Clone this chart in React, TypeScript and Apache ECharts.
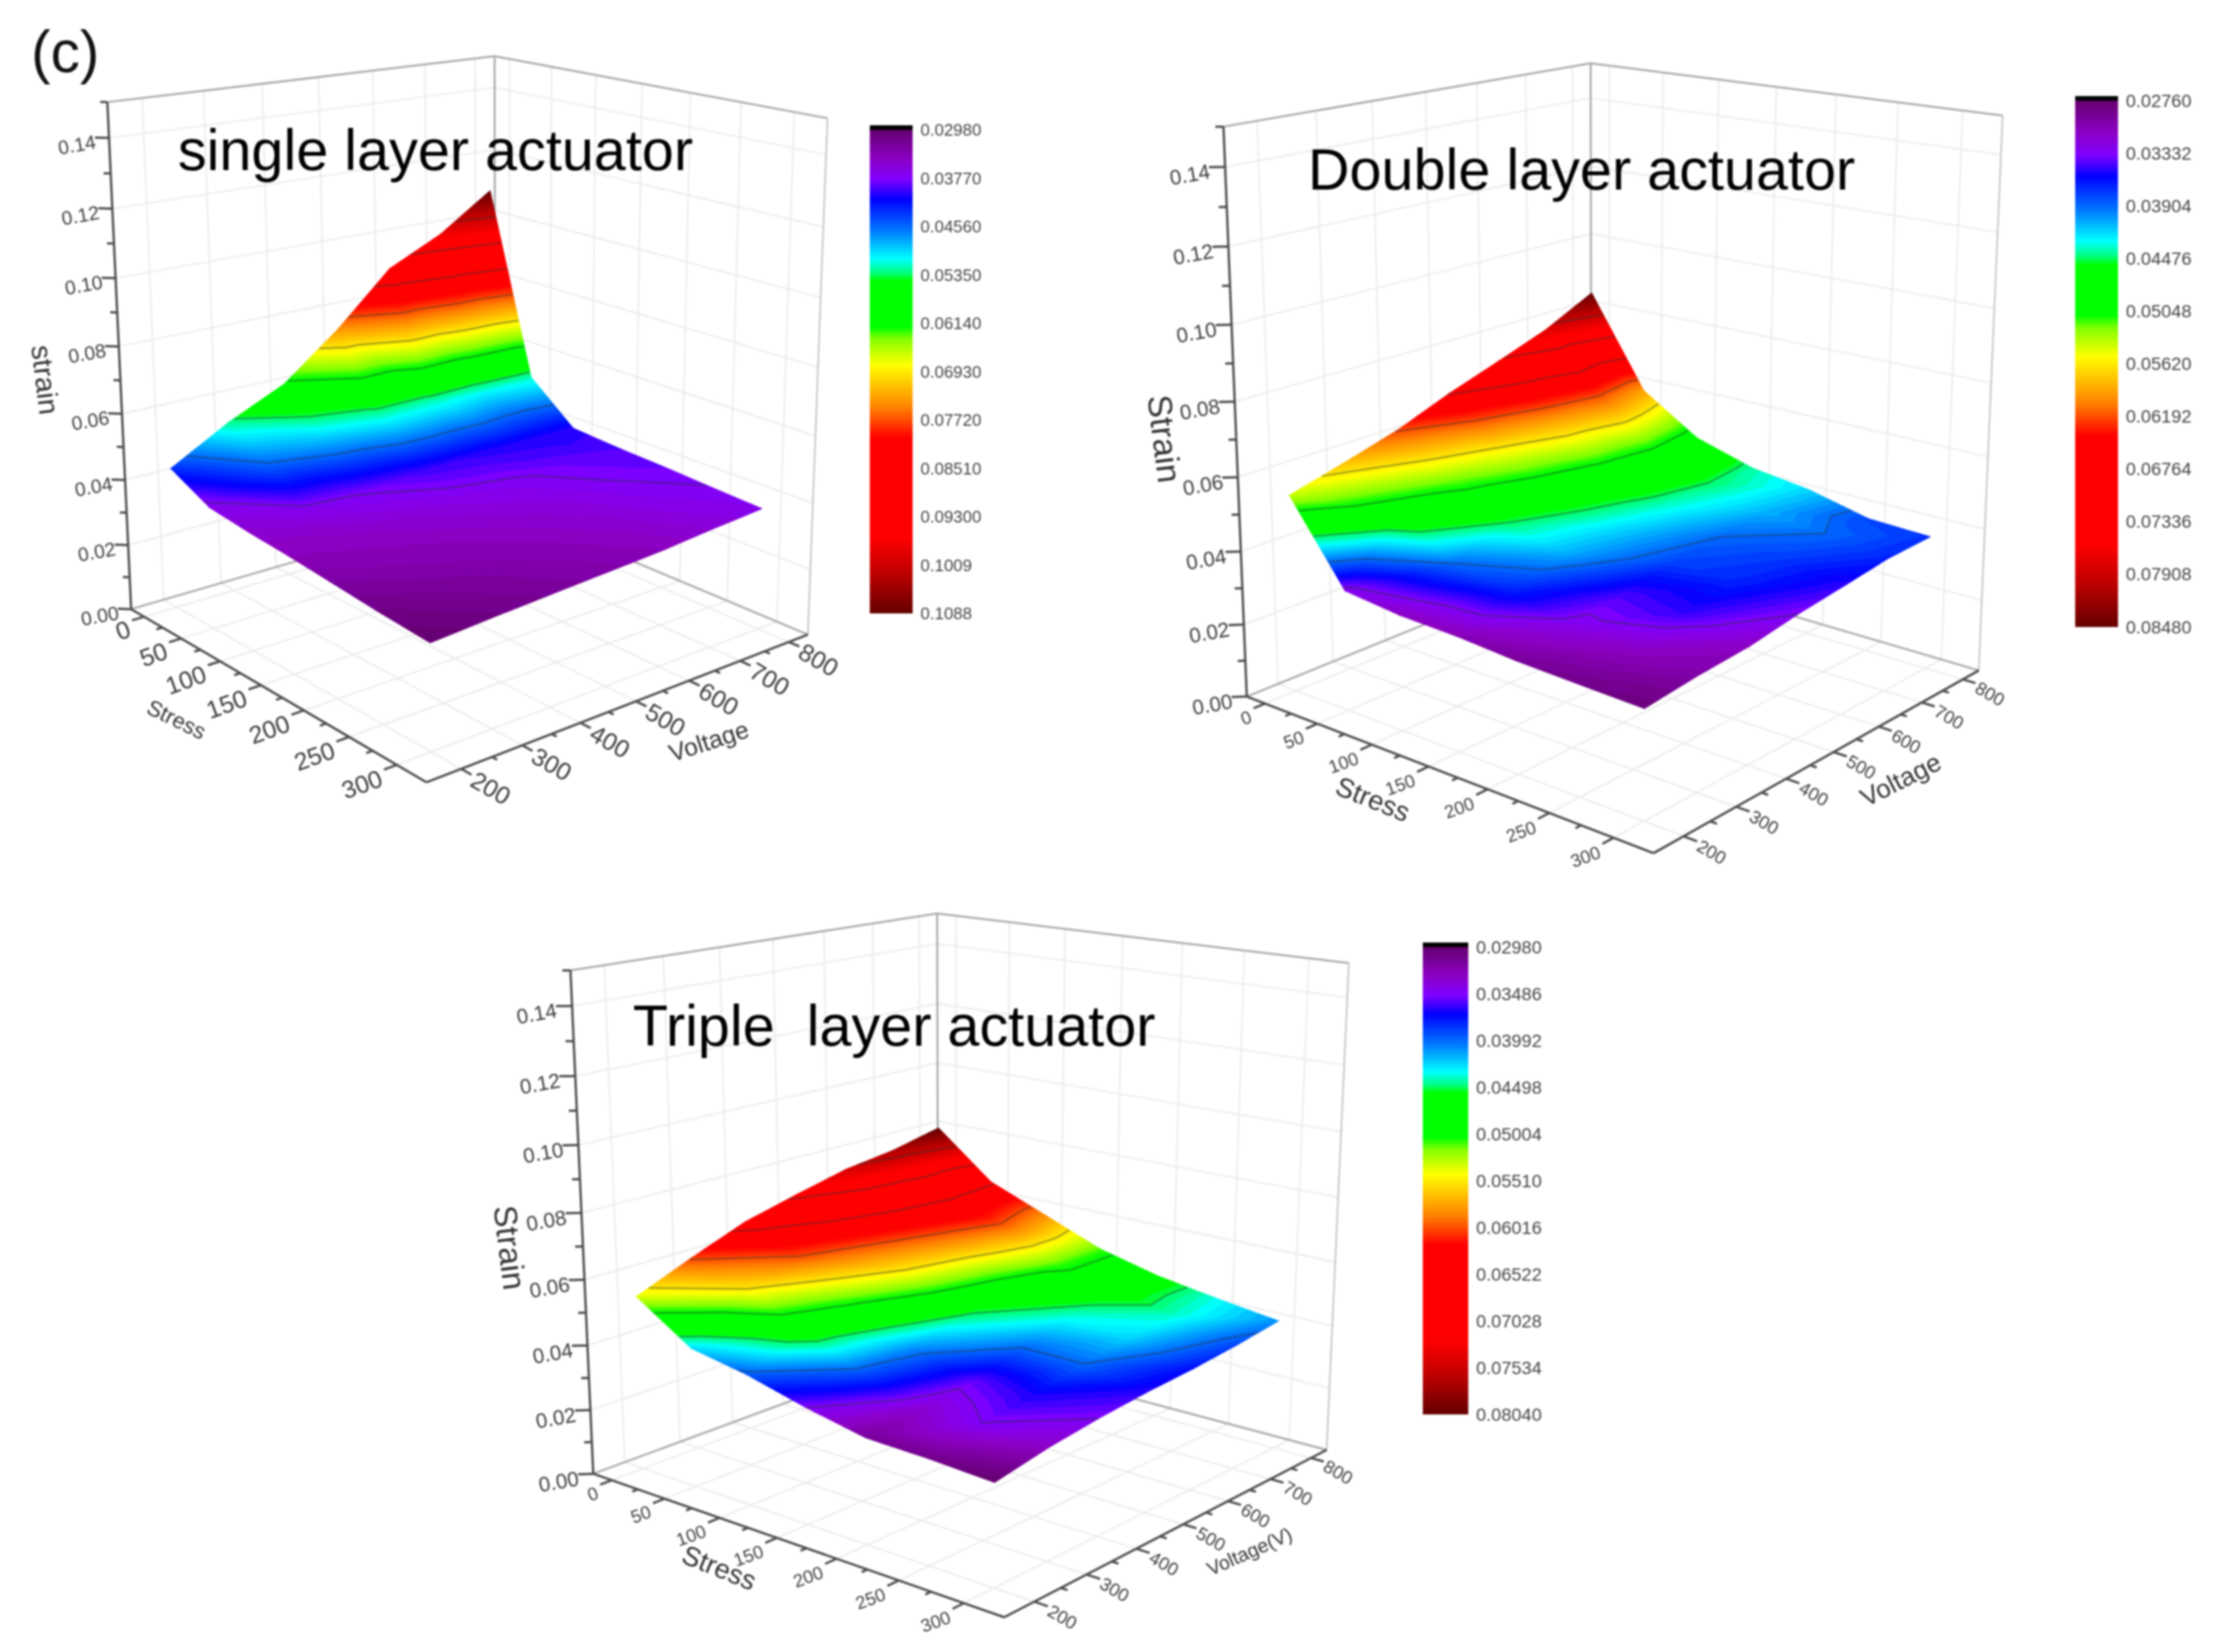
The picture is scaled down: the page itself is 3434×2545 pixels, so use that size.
import React, { useEffect, useRef } from "react";
import * as echarts from "echarts";

const PAGE_W = 3434;
const PAGE_H = 2545;
const FONT = '"Liberation Sans", Arial, sans-serif';

const stressValues = [0, 50, 100, 150, 200, 250, 300];
const voltageValues = [200, 300, 400, 500, 600, 700, 800];
const strainTicks = [0, 0.02, 0.04, 0.06, 0.08, 0.1, 0.12, 0.14];
const stressRange = [-18, 330];
const voltageRange = [145, 840];
const strainRange = [0, 0.15];

// rows: stress, columns: voltage
const singleStrain = [
  [0.043, 0.0527, 0.0606, 0.074, 0.0898, 0.0977, 0.1088],
  [0.0368, 0.0455, 0.049, 0.0525, 0.052, 0.0505, 0.052],
  [0.0352, 0.0368, 0.0379, 0.0395, 0.04, 0.0405, 0.0402],
  [0.034, 0.0345, 0.0355, 0.0365, 0.0373, 0.0385, 0.0392],
  [0.0325, 0.0335, 0.034, 0.035, 0.036, 0.0375, 0.0385],
  [0.031, 0.032, 0.033, 0.0338, 0.035, 0.0365, 0.0376],
  [0.0298, 0.031, 0.032, 0.033, 0.034, 0.0355, 0.0368],
];
const doubleStrain = [
  [0.0539, 0.0579, 0.0622, 0.0679, 0.0728, 0.0779, 0.0848],
  [0.0327, 0.0482, 0.0522, 0.0556, 0.0591, 0.0619, 0.0591],
  [0.031, 0.039, 0.0448, 0.047, 0.0493, 0.0505, 0.0488],
  [0.0305, 0.0368, 0.0408, 0.0419, 0.0436, 0.0448, 0.044],
  [0.0293, 0.0327, 0.0345, 0.0379, 0.039, 0.041, 0.0418],
  [0.0287, 0.031, 0.035, 0.0368, 0.0375, 0.039, 0.0379],
  [0.0282, 0.0299, 0.031, 0.0333, 0.035, 0.0368, 0.0373],
];
const tripleStrain = [
  [0.0536, 0.0605, 0.0669, 0.071, 0.0748, 0.0769, 0.0804],
  [0.0425, 0.0551, 0.0602, 0.0627, 0.0652, 0.0662, 0.0657],
  [0.0394, 0.047, 0.0505, 0.0551, 0.0576, 0.0602, 0.0584],
  [0.0349, 0.0394, 0.0409, 0.0445, 0.0475, 0.0511, 0.0511],
  [0.0313, 0.0333, 0.0354, 0.0399, 0.0435, 0.0465, 0.0465],
  [0.0308, 0.0349, 0.0367, 0.0399, 0.0425, 0.044, 0.0435],
  [0.0298, 0.0328, 0.0349, 0.0364, 0.0374, 0.0389, 0.0409],
];

const singleLegend = ["0.02980", "0.03770", "0.04560", "0.05350", "0.06140", "0.06930", "0.07720", "0.08510", "0.09300", "0.1009", "0.1088"];
const doubleLegend = ["0.02760", "0.03332", "0.03904", "0.04476", "0.05048", "0.05620", "0.06192", "0.06764", "0.07336", "0.07908", "0.08480"];
const tripleLegend = ["0.02980", "0.03486", "0.03992", "0.04498", "0.05004", "0.05510", "0.06016", "0.06522", "0.07028", "0.07534", "0.08040"];

const colorStops: [number, number[]][] = [
  [0, [100, 0, 110]],
  [0.06, [140, 0, 195]],
  [0.103, [128, 0, 255]],
  [0.144, [0, 0, 255]],
  [0.212, [0, 128, 255]],
  [0.267, [0, 255, 255]],
  [0.295, [0, 255, 128]],
  [0.312, [0, 255, 0]],
  [0.408, [0, 255, 0]],
  [0.432, [128, 255, 0]],
  [0.486, [255, 255, 0]],
  [0.575, [255, 128, 0]],
  [0.637, [255, 0, 0]],
  [0.842, [255, 0, 0]],
  [0.917, [190, 0, 0]],
  [1, [100, 0, 0]],
];

const panels = [
  {
    strain: singleStrain,
    legend: singleLegend,
    min: 0.0298,
    max: 0.1088,
    corners: { o: [198, 938], f: [659, 1205], r: [1240, 979], b: [769, 775], ot: [168, 158], bt: [757, 87], rt: [1278, 181] },
    title: "single layer actuator",
    titlePos: [274, 187],
    bar: { x: 1340, w: 66, top: 200, bottom: 945, font: 26 },
    tickFont: 38,
    zFont: 30,
    stressTitle: { text: "Stress", pos: [272, 1108], rot: -26, font: 34 },
    voltageTitle: { text: "Voltage", pos: [1092, 1142], rot: 18, font: 38 },
    strainTitle: { text: "strain", pos: [70, 585], rot: -83, font: 44 },
  },
  {
    strain: doubleStrain,
    legend: doubleLegend,
    min: 0.0276,
    max: 0.0848,
    corners: { o: [1921, 1070], f: [2546, 1318], r: [3049, 1028], b: [2452, 862], ot: [1886, 195], bt: [2449, 96], rt: [3086, 180] },
    title: "Double layer actuator",
    titlePos: [2015, 217],
    bar: { x: 3197, w: 66, top: 155, bottom: 966, font: 28 },
    tickFont: 28,
    zFont: 32,
    stressTitle: { text: "Stress", pos: [2115, 1231], rot: -22, font: 42 },
    voltageTitle: { text: "Voltage", pos: [2928, 1201], rot: 27, font: 40 },
    strainTitle: { text: "Strain", pos: [1794, 676], rot: -83, font: 52 },
  },
  {
    strain: tripleStrain,
    legend: tripleLegend,
    min: 0.0298,
    max: 0.0804,
    corners: { o: [913, 2270], f: [1547, 2492], r: [2043, 2233], b: [1447, 2075], ot: [880, 1495], bt: [1442, 1407], rt: [2079, 1484] },
    title: "Triple  layer actuator",
    titlePos: [975, 1536],
    bar: { x: 2192, w: 70, top: 1459, bottom: 2179, font: 28 },
    tickFont: 28,
    zFont: 32,
    stressTitle: { text: "Stress", pos: [1108, 2415], rot: -22, font: 42 },
    voltageTitle: { text: "Voltage(V)", pos: [1925, 2390], rot: 24, font: 30 },
    strainTitle: { text: "Strain", pos: [785, 1922], rot: -83, font: 50 },
  },
];

function colorAt(t: number) {
  const x = Math.max(0, Math.min(1, t));
  for (let i = 1; i < colorStops.length; i++) {
    if (x <= colorStops[i][0]) {
      const [t0, c0] = colorStops[i - 1];
      const [t1, c1] = colorStops[i];
      const f = t1 === t0 ? 0 : (x - t0) / (t1 - t0);
      return `rgb(${c0.map((c, k) => Math.round(c + (c1[k] - c) * f)).join(",")})`;
    }
  }
  return "rgb(100,0,0)";
}

function solve(A: number[][], b: number[]) {
  const n = b.length;
  const M = A.map((r, i) => [...r, b[i]]);
  for (let c = 0; c < n; c++) {
    let p = c;
    for (let r = c + 1; r < n; r++) if (Math.abs(M[r][c]) > Math.abs(M[p][c])) p = r;
    [M[c], M[p]] = [M[p], M[c]];
    for (let r = c + 1; r < n; r++) {
      const f = M[r][c] / M[c][c];
      for (let k = c; k <= n; k++) M[r][k] -= f * M[c][k];
    }
  }
  const x = new Array(n).fill(0);
  for (let r = n - 1; r >= 0; r--) {
    let s = M[r][n];
    for (let k = r + 1; k < n; k++) s -= M[r][k] * x[k];
    x[r] = s / M[r][r];
  }
  return x;
}

// perspective camera fitted to the seven visible corners of the plot box
function fitCamera(c: any) {
  const pairs: [number[], number[]][] = [
    [[0, 0, 0], c.o],
    [[1, 0, 0], c.f],
    [[1, 1, 0], c.r],
    [[0, 1, 0], c.b],
    [[0, 0, 1], c.ot],
    [[0, 1, 1], c.bt],
    [[1, 1, 1], c.rt],
  ];
  const rows: number[][] = [];
  const rhs: number[] = [];
  pairs.forEach(([[X, Y, Z], [u0, v0]]) => {
    const u = u0 / 1000;
    const v = v0 / 1000;
    rows.push([X, Y, Z, 1, 0, 0, 0, 0, -u * X, -u * Y, -u * Z]);
    rhs.push(u);
    rows.push([0, 0, 0, 0, X, Y, Z, 1, -v * X, -v * Y, -v * Z]);
    rhs.push(v);
  });
  const N = 11;
  const AtA = Array.from({ length: N }, () => new Array(N).fill(0));
  const Atb = new Array(N).fill(0);
  rows.forEach((r, i) => {
    for (let a = 0; a < N; a++) {
      Atb[a] += r[a] * rhs[i];
      for (let b = 0; b < N; b++) AtA[a][b] += r[a] * r[b];
    }
  });
  const p = solve(AtA, Atb);
  return (S: number, V: number, Z: number) => {
    const X = (S - stressRange[0]) / (stressRange[1] - stressRange[0]);
    const Y = (V - voltageRange[0]) / (voltageRange[1] - voltageRange[0]);
    const H = (Z - strainRange[0]) / (strainRange[1] - strainRange[0]);
    const d = p[8] * X + p[9] * Y + p[10] * H + 1;
    return [
      (1000 * (p[0] * X + p[1] * Y + p[2] * H + p[3])) / d,
      (1000 * (p[4] * X + p[5] * Y + p[6] * H + p[7])) / d,
    ];
  };
}

type Vtx = { p: number[]; t: number };

function clipBand(poly: Vtx[], level: number, above: boolean) {
  const out: Vtx[] = [];
  for (let i = 0; i < poly.length; i++) {
    const a = poly[i];
    const b = poly[(i + 1) % poly.length];
    const ina = above ? a.t >= level : a.t <= level;
    const inb = above ? b.t >= level : b.t <= level;
    if (ina) out.push(a);
    if (ina !== inb) {
      const f = (level - a.t) / (b.t - a.t);
      out.push({ p: a.p.map((v, k) => v + (b.p[k] - v) * f), t: level });
    }
  }
  return out;
}

function cellTriangles(panel: any, i: number, j: number): Vtx[][] {
  const span = panel.max - panel.min;
  const v = (a: number, b: number): Vtx => ({
    p: [stressValues[a], voltageValues[b], panel.strain[a][b]],
    t: (panel.strain[a][b] - panel.min) / span,
  });
  return [
    [v(i, j), v(i + 1, j), v(i + 1, j + 1)],
    [v(i, j), v(i + 1, j + 1), v(i, j + 1)],
  ];
}

const BANDS = 110;
const lineStyles = [
  { stroke: "#ececec", lineWidth: 2.5 },
  { stroke: "#a8a8a8", lineWidth: 3 },
  { stroke: "#4a4a4a", lineWidth: 3.5 },
  { stroke: "#c4c4c4", lineWidth: 2.5 },
];

function buildSeries(panel: any, index: number) {
  const project = fitCamera(panel.corners);
  const [s0, s1] = stressRange;
  const [v0, v1] = voltageRange;
  const zTop = strainRange[1];

  const lines: number[][] = [];
  stressValues.forEach((s) => {
    lines.push([s, v0, 0, s, v1, 0, 0]);
    lines.push([s, v1, 0, s, v1, zTop, 0]);
  });
  voltageValues.forEach((v) => {
    lines.push([s0, v, 0, s1, v, 0, 0]);
    lines.push([s0, v, 0, s0, v, zTop, 0]);
  });
  strainTicks.slice(1).forEach((z) => {
    lines.push([s0, v0, z, s0, v1, z, 0]);
    lines.push([s0, v1, z, s1, v1, z, 0]);
  });
  lines.push([s0, v0, zTop, s0, v1, zTop, 1]);
  lines.push([s0, v1, zTop, s1, v1, zTop, 1]);
  lines.push([s0, v1, 0, s0, v1, zTop, 1]);
  lines.push([s1, v1, 0, s1, v1, zTop, 3]);
  lines.push([s0, v1, 0, s0, v0, 0, 1]);
  lines.push([s0, v1, 0, s1, v1, 0, 1]);
  lines.push([s0, v0, 0, s0, v0, zTop, 2]);
  lines.push([s0, v0, 0, s1, v0, 0, 2]);
  lines.push([s1, v0, 0, s1, v1, 0, 2]);
  stressValues.forEach((s) => lines.push([s, v0, 0, s, v0 - 20, 0, 2]));
  stressValues.slice(0, -1).forEach((s) => lines.push([s + 25, v0, 0, s + 25, v0 - 10, 0, 2]));
  voltageValues.forEach((v) => lines.push([s1, v, 0, s1 + 10, v, 0, 2]));
  voltageValues.slice(0, -1).forEach((v) => lines.push([s1, v + 50, 0, s1 + 5, v + 50, 0, 2]));
  strainTicks.forEach((z) => lines.push([s0, v0, z, s0 - 7, v0 - 14, z, 2]));
  strainTicks.forEach((z) => lines.push([s0, v0, z + 0.01, s0 - 3.5, v0 - 7, z + 0.01, 2]));

  const cells: number[][] = [];
  for (let i = 0; i < stressValues.length - 1; i++) {
    for (let j = voltageValues.length - 2; j >= 0; j--) cells.push([i, j]);
  }

  const toPixel = (api: any, p: number[]) => api.coord(project(p[0], p[1], p[2]));

  const base = { type: "custom", coordinateSystem: "cartesian2d", silent: true, clip: false, animation: false };

  const frame = {
    ...base,
    name: `frame-${index}`,
    z: 1,
    data: lines,
    renderItem: (_: any, api: any) => {
      const a = toPixel(api, [api.value(0), api.value(1), api.value(2)]);
      const b = toPixel(api, [api.value(3), api.value(4), api.value(5)]);
      return {
        type: "line",
        shape: { x1: a[0], y1: a[1], x2: b[0], y2: b[1] },
        style: { ...lineStyles[api.value(6)], fill: null },
      };
    },
  };

  const surface = {
    ...base,
    name: `surface-${index}`,
    z: 2,
    data: cells,
    renderItem: (_: any, api: any) => {
      const children: any[] = [];
      cellTriangles(panel, api.value(0), api.value(1)).forEach((tri) => {
        const ts = tri.map((v) => v.t);
        const lo = Math.floor(Math.min(...ts) * BANDS);
        const hi = Math.ceil(Math.max(...ts) * BANDS);
        for (let b = lo; b < Math.max(hi, lo + 1); b++) {
          const a0 = b / BANDS;
          const a1 = (b + 1) / BANDS;
          let poly = clipBand(tri, a0, true);
          poly = poly.length ? clipBand(poly, a1, false) : poly;
          if (poly.length < 3) continue;
          const color = colorAt((a0 + a1) / 2);
          children.push({
            type: "polygon",
            shape: { points: poly.map((v) => toPixel(api, v.p)) },
            style: { fill: color, stroke: color, lineWidth: 1.4 },
          });
        }
      });
      return { type: "group", children };
    },
  };

  const contour = {
    ...base,
    name: `contour-${index}`,
    z: 3,
    data: cells,
    renderItem: (_: any, api: any) => {
      const children: any[] = [];
      cellTriangles(panel, api.value(0), api.value(1)).forEach((tri) => {
        for (let k = 1; k < panel.legend.length - 1; k++) {
          const lv = k / (panel.legend.length - 1);
          const pts: number[][] = [];
          for (let e = 0; e < 3; e++) {
            const a = tri[e];
            const b = tri[(e + 1) % 3];
            if (a.t < lv !== b.t < lv) {
              const f = (lv - a.t) / (b.t - a.t);
              pts.push(a.p.map((v, m) => v + (b.p[m] - v) * f));
            }
          }
          if (pts.length === 2) {
            const p = toPixel(api, pts[0]);
            const q = toPixel(api, pts[1]);
            children.push({
              type: "line",
              shape: { x1: p[0], y1: p[1], x2: q[0], y2: q[1] },
              style: { stroke: "rgba(40,50,50,0.45)", lineWidth: 2.5 },
            });
          }
        }
      });
      return { type: "group", children };
    },
  };

  const labels: number[][] = [
    ...stressValues.map((s) => [0, s]),
    ...voltageValues.map((v) => [1, v]),
    ...strainTicks.map((z) => [2, z]),
  ];
  const ticks = {
    ...base,
    name: `ticks-${index}`,
    z: 4,
    data: labels,
    renderItem: (_: any, api: any) => {
      const kind = api.value(0);
      const val = api.value(1);
      let p: number[];
      let text = String(val);
      let rot = 0;
      let align = "right";
      let font = panel.tickFont;
      let dx = 0;
      let dy = 0;
      if (kind === 0) {
        p = toPixel(api, [val, v0 - 20, 0]);
        rot = 20;
        dx = -4;
        dy = 12;
      } else if (kind === 1) {
        p = toPixel(api, [s1 + 10, val, 0]);
        rot = -30;
        align = "left";
        dx = 2;
        dy = 5;
      } else {
        p = toPixel(api, [s0 - 7, v0 - 14, val]);
        rot = 10;
        text = val.toFixed(2);
        font = panel.zFont;
        dx = 1;
        dy = 6;
      }
      return {
        type: "text",
        x: p[0] + dx,
        y: p[1] + dy,
        rotation: (rot * Math.PI) / 180,
        style: { text, x: 0, y: 0, align, verticalAlign: "middle", fill: "#3c3c3c", font: `${font}px ${FONT}` },
      };
    },
  };

  return [frame, surface, contour, ticks];
}

function buildGraphics() {
  const els: any[] = [
    { type: "text", x: 48, y: 80, style: { text: "(c)", fill: "#111", font: `90px ${FONT}`, verticalAlign: "middle" } },
  ];
  const gradient = new echarts.graphic.LinearGradient(
    0,
    0,
    0,
    1,
    colorStops.map(([t]) => ({ offset: t, color: colorAt(t) })),
  );
  panels.forEach((p) => {
    els.push({
      type: "text",
      x: p.titlePos[0],
      y: p.titlePos[1],
      z: 10,
      style: { text: p.title, fill: "#000", font: `88.7px ${FONT}`, verticalAlign: "alphabetic" },
    });
    const b = p.bar;
    els.push({ type: "rect", shape: { x: b.x, y: b.top - 7, width: b.w, height: 8 }, style: { fill: "#000" } });
    els.push({ type: "rect", shape: { x: b.x, y: b.top, width: b.w, height: b.bottom - b.top }, style: { fill: gradient } });
    p.legend.forEach((t, i) => {
      els.push({
        type: "text",
        x: b.x + b.w + 12,
        y: b.top + ((b.bottom - b.top) * i) / (p.legend.length - 1),
        style: { text: t, fill: "#444", font: `${b.font}px ${FONT}`, verticalAlign: "middle" },
      });
    });
    [p.stressTitle, p.voltageTitle, p.strainTitle].forEach((a) => {
      els.push({
        type: "text",
        x: a.pos[0],
        y: a.pos[1],
        rotation: (a.rot * Math.PI) / 180,
        style: { text: a.text, fill: "#333", font: `${a.font}px ${FONT}`, align: "center", verticalAlign: "middle" },
      });
    });
  });
  return els;
}

export default function App() {
  const ref = useRef<HTMLDivElement>(null);
  useEffect(() => {
    const chart = echarts.init(ref.current!, null, { renderer: "svg" });
    chart.setOption({
      animation: false,
      backgroundColor: "#fff",
      grid: { left: 0, right: 0, top: 0, bottom: 0 },
      xAxis: { type: "value", min: 0, max: PAGE_W, show: false },
      yAxis: { type: "value", min: 0, max: PAGE_H, inverse: true, show: false },
      series: panels.flatMap((p, i) => buildSeries(p, i)),
      graphic: { elements: buildGraphics() },
    });
    return () => chart.dispose();
  }, []);
  return (
    <div
      ref={ref}
      style={{ position: "absolute", left: 0, top: 0, width: PAGE_W, height: PAGE_H, filter: "blur(1.4px)" }}
    />
  );
}
